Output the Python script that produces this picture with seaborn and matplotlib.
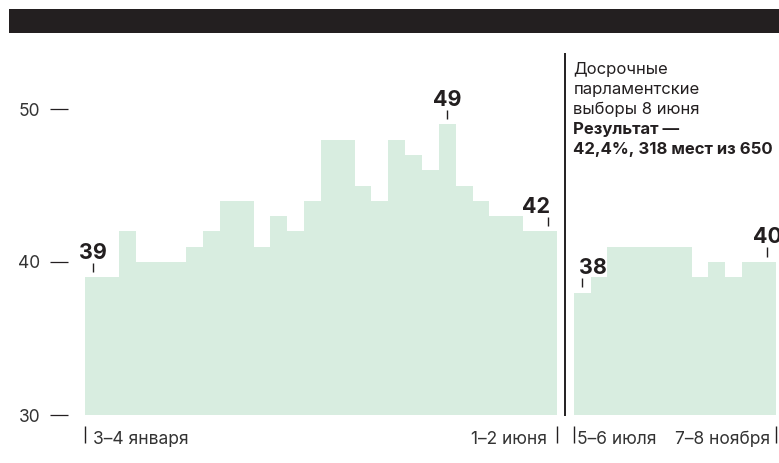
#!/usr/bin/env python3
import numpy as np
import pandas as pd
import matplotlib
matplotlib.use("Agg")
import matplotlib.pyplot as plt
from matplotlib.patches import Rectangle
import seaborn as sns

# -------------------------
# Data (poll share, %)
# -------------------------
before_values = [39, 39, 42, 40, 40, 40, 41, 42, 44, 44, 41, 43, 42, 44,
                 48, 48, 45, 44, 48, 47, 46, 49, 45, 44, 43, 43, 42, 42]
after_values = [38, 39, 41, 41, 41, 41, 41, 39, 40, 39, 40, 40]
gap = 1  # one empty slot for the election line

y_ticks = [30, 40, 50]
date_labels = ["3–4 января", "1–2 июня", "5–6 июля", "7–8 ноября"]
note_regular = ["Досрочные", "парламентские", "выборы 8 июня"]
note_bold = ["Результат —", "42,4%, 318 мест из 650"]

FILL = "#d8ede0"
INK = "#231f20"
PX = 15.3  # pixels per percentage point


def build_frame():
    n1 = len(before_values)
    idx1 = np.arange(n1)
    idx2 = np.arange(len(after_values)) + n1 + gap
    df1 = pd.DataFrame({"poll": idx1, "share": before_values, "segment": "before"})
    df2 = pd.DataFrame({"poll": idx2, "share": after_values, "segment": "after"})
    return df1, df2


def value_label(ax, x, v, ha="center", dx=0.0):
    ax.vlines(x, v + 0.35, v + 0.95, color=INK, lw=1.0)
    ax.text(x + dx, v + 1.22, str(v), ha=ha, va="baseline",
            fontsize=15.5, fontweight="bold", color=INK)


def main():
    sns.set_style("white")
    plt.rcParams["font.family"] = ["Inter", "DejaVu Sans"]

    df1, df2 = build_frame()
    fig = plt.figure(figsize=(7.79, 4.63), dpi=100)
    ax = fig.add_axes([67.7 / 779, 48 / 463, (779 - 67.7) / 779, 382.5 / 463])

    for df in (df1, df2):
        sns.histplot(data=df, x="poll", weights="share", discrete=True,
                     element="step", fill=True, color=FILL, alpha=1,
                     linewidth=0, ax=ax)

    n1 = len(before_values)
    line_x = n1 - 1 + gap
    last = line_x + len(after_values)

    ax.set_xlim(-1.527, 40.687)
    ax.set_ylim(30, 55)
    ax.set_yticks(y_ticks)
    ax.set_xticks([])
    ax.set_xlabel("")
    ax.set_ylabel("")
    ax.tick_params(axis="y", length=12.7, width=0.9, pad=7.2, colors=INK,
                   labelsize=12.5, labelcolor="#333333", left=True)
    sns.despine(ax=ax, left=True, bottom=True)

    # election line and note
    ax.vlines(line_x, 29.93, 53.66, color=INK, lw=1.4, clip_on=False)
    lines = [(t, "normal") for t in note_regular] + [(t, "bold") for t in note_bold]
    for i, (t, w) in enumerate(lines):
        base_px = 74 + 20 * i
        ax.text(line_x + 0.48, 30 + (415 - base_px) / PX, t, ha="left",
                va="baseline", fontsize=12, fontweight=w, color=INK)

    # value labels
    value_label(ax, 0, before_values[0])
    peak = int(np.argmax(before_values))
    value_label(ax, peak, before_values[peak])
    value_label(ax, n1 - 1, before_values[-1], ha="right", dx=0.1)
    value_label(ax, line_x + 1, after_values[0], ha="left", dx=-0.2)
    value_label(ax, last, after_values[-1])

    # date markers under the bars
    edges = [-0.5, n1 - 0.5, line_x + 0.5, last + 0.5]
    ax.vlines(edges, 28.15, 29.3, color=INK, lw=1.0, clip_on=False)
    offs = [(0.45, "left"), (-0.6, "right"), (0.2, "left"), (-0.35, "right")]
    for e, lab, (dx, ha) in zip(edges, date_labels, offs):
        ax.text(e + dx, 28.1, lab, ha=ha, va="baseline", fontsize=12.5,
                color="#333333", clip_on=False)

    # dark header band
    fig.add_artist(Rectangle((9 / 779, (463 - 33) / 463), 1, 24 / 463,
                             transform=fig.transFigure, color=INK, lw=0))

    fig.savefig("out.png", dpi=100)
    plt.close(fig)


if __name__ == "__main__":
    main()
